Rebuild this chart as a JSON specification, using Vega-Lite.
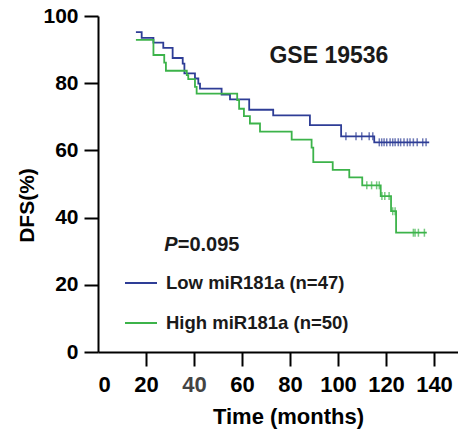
{
  "$schema": "https://vega.github.io/schema/vega-lite/v6.json",
  "width": 360,
  "height": 336,
  "autosize": {"type": "none"},
  "padding": {"left": 98, "top": 16, "right": 0, "bottom": 82},
  "background": "white",
  "config": {
    "view": {"stroke": null},
    "font": "Liberation Sans",
    "axis": {
      "domainColor": "black",
      "domainWidth": 2,
      "tickColor": "black",
      "tickWidth": 2,
      "tickSize": 14,
      "grid": false,
      "labelFont": "Liberation Sans",
      "labelFontWeight": "bold",
      "labelColor": "black",
      "titleFont": "Liberation Sans",
      "titleFontWeight": "bold",
      "titleColor": "black"
    }
  },
  "datasets": {
    "curves": [
      {"group": "Low miR181a (n=47)", "months": 15.8, "dfs": 95.2},
      {"group": "Low miR181a (n=47)", "months": 18.2, "dfs": 93.5},
      {"group": "Low miR181a (n=47)", "months": 23.1, "dfs": 92.1},
      {"group": "Low miR181a (n=47)", "months": 27.2, "dfs": 90.5},
      {"group": "Low miR181a (n=47)", "months": 31.1, "dfs": 87.5},
      {"group": "Low miR181a (n=47)", "months": 35.3, "dfs": 85.8},
      {"group": "Low miR181a (n=47)", "months": 36.0, "dfs": 82.9},
      {"group": "Low miR181a (n=47)", "months": 40.4, "dfs": 81.4},
      {"group": "Low miR181a (n=47)", "months": 41.8, "dfs": 79.9},
      {"group": "Low miR181a (n=47)", "months": 42.5, "dfs": 78.4},
      {"group": "Low miR181a (n=47)", "months": 51.5, "dfs": 76.6},
      {"group": "Low miR181a (n=47)", "months": 55.0, "dfs": 75.2},
      {"group": "Low miR181a (n=47)", "months": 63.0, "dfs": 72.1},
      {"group": "Low miR181a (n=47)", "months": 73.0, "dfs": 70.4},
      {"group": "Low miR181a (n=47)", "months": 88.3, "dfs": 67.5},
      {"group": "Low miR181a (n=47)", "months": 101.3, "dfs": 64.2},
      {"group": "Low miR181a (n=47)", "months": 115.1, "dfs": 62.4},
      {"group": "Low miR181a (n=47)", "months": 138.0, "dfs": 62.4},
      {"group": "High miR181a (n=50)", "months": 15.8, "dfs": 92.9},
      {"group": "High miR181a (n=50)", "months": 23.1, "dfs": 88.4},
      {"group": "High miR181a (n=50)", "months": 27.6, "dfs": 86.1},
      {"group": "High miR181a (n=50)", "months": 28.3, "dfs": 83.7},
      {"group": "High miR181a (n=50)", "months": 37.0, "dfs": 82.4},
      {"group": "High miR181a (n=50)", "months": 37.6, "dfs": 81.2},
      {"group": "High miR181a (n=50)", "months": 40.4, "dfs": 78.9},
      {"group": "High miR181a (n=50)", "months": 41.1, "dfs": 76.9},
      {"group": "High miR181a (n=50)", "months": 58.0, "dfs": 75.0},
      {"group": "High miR181a (n=50)", "months": 58.8, "dfs": 72.4},
      {"group": "High miR181a (n=50)", "months": 60.8, "dfs": 70.2},
      {"group": "High miR181a (n=50)", "months": 63.3, "dfs": 68.0},
      {"group": "High miR181a (n=50)", "months": 67.5, "dfs": 65.6},
      {"group": "High miR181a (n=50)", "months": 80.7, "dfs": 63.2},
      {"group": "High miR181a (n=50)", "months": 89.0, "dfs": 60.8},
      {"group": "High miR181a (n=50)", "months": 89.7, "dfs": 56.5},
      {"group": "High miR181a (n=50)", "months": 97.8, "dfs": 54.2},
      {"group": "High miR181a (n=50)", "months": 104.7, "dfs": 52.0},
      {"group": "High miR181a (n=50)", "months": 110.1, "dfs": 49.6},
      {"group": "High miR181a (n=50)", "months": 117.8, "dfs": 46.4},
      {"group": "High miR181a (n=50)", "months": 122.1, "dfs": 41.9},
      {"group": "High miR181a (n=50)", "months": 124.2, "dfs": 35.5},
      {"group": "High miR181a (n=50)", "months": 137.0, "dfs": 35.5}
    ],
    "censors": [
      {"group": "Low miR181a (n=47)", "months": 103.3, "dfs": 64.2},
      {"group": "Low miR181a (n=47)", "months": 107.5, "dfs": 64.2},
      {"group": "Low miR181a (n=47)", "months": 109.9, "dfs": 64.2},
      {"group": "Low miR181a (n=47)", "months": 113.0, "dfs": 64.2},
      {"group": "Low miR181a (n=47)", "months": 114.5, "dfs": 64.2},
      {"group": "Low miR181a (n=47)", "months": 117.2, "dfs": 62.4},
      {"group": "Low miR181a (n=47)", "months": 118.2, "dfs": 62.4},
      {"group": "Low miR181a (n=47)", "months": 119.2, "dfs": 62.4},
      {"group": "Low miR181a (n=47)", "months": 120.3, "dfs": 62.4},
      {"group": "Low miR181a (n=47)", "months": 121.7, "dfs": 62.4},
      {"group": "Low miR181a (n=47)", "months": 122.8, "dfs": 62.4},
      {"group": "Low miR181a (n=47)", "months": 123.8, "dfs": 62.4},
      {"group": "Low miR181a (n=47)", "months": 125.1, "dfs": 62.4},
      {"group": "Low miR181a (n=47)", "months": 126.1, "dfs": 62.4},
      {"group": "Low miR181a (n=47)", "months": 127.5, "dfs": 62.4},
      {"group": "Low miR181a (n=47)", "months": 128.9, "dfs": 62.4},
      {"group": "Low miR181a (n=47)", "months": 130.0, "dfs": 62.4},
      {"group": "Low miR181a (n=47)", "months": 131.4, "dfs": 62.4},
      {"group": "Low miR181a (n=47)", "months": 133.0, "dfs": 62.4},
      {"group": "Low miR181a (n=47)", "months": 135.3, "dfs": 62.4},
      {"group": "Low miR181a (n=47)", "months": 136.7, "dfs": 62.4},
      {"group": "High miR181a (n=50)", "months": 112.0, "dfs": 49.6},
      {"group": "High miR181a (n=50)", "months": 114.0, "dfs": 49.6},
      {"group": "High miR181a (n=50)", "months": 116.1, "dfs": 49.6},
      {"group": "High miR181a (n=50)", "months": 117.2, "dfs": 49.6},
      {"group": "High miR181a (n=50)", "months": 118.3, "dfs": 46.4},
      {"group": "High miR181a (n=50)", "months": 119.5, "dfs": 46.4},
      {"group": "High miR181a (n=50)", "months": 121.3, "dfs": 46.4},
      {"group": "High miR181a (n=50)", "months": 122.8, "dfs": 41.9},
      {"group": "High miR181a (n=50)", "months": 123.8, "dfs": 41.9},
      {"group": "High miR181a (n=50)", "months": 131.4, "dfs": 35.5},
      {"group": "High miR181a (n=50)", "months": 132.1, "dfs": 35.5},
      {"group": "High miR181a (n=50)", "months": 133.5, "dfs": 35.5},
      {"group": "High miR181a (n=50)", "months": 136.0, "dfs": 35.5}
    ]
  },
  "layer": [
    {
      "data": {"name": "curves"},
      "mark": {"type": "line", "interpolate": "step-after", "strokeWidth": 1.8},
      "encoding": {
        "x": {
          "field": "months", "type": "quantitative",
          "scale": {"domain": [0, 150], "nice": false, "zero": true},
          "axis": {
            "values": [0, 20, 40, 60, 80, 100, 120, 140],
            "labelFontSize": 22,
            "labelPadding": 8,
            "labelColor": {"condition": {"test": "datum.value === 40", "value": "#444444"}, "value": "black"},
            "tickOpacity": {"condition": {"test": "datum.value === 0", "value": 0}, "value": 1},
            "title": "Time (months)",
            "titleFontSize": 22,
            "titleX": 190,
            "titleY": 71,
            "titleBaseline": "alphabetic",
            "titleAlign": "center"
          }
        },
        "y": {
          "field": "dfs", "type": "quantitative",
          "scale": {"domain": [0, 100], "nice": false},
          "axis": {
            "values": [0, 10, 20, 30, 40, 50, 60, 70, 80, 90, 100],
            "labelExpr": "datum.value % 20 === 0 ? datum.label : ''",
            "labelFontSize": 21,
            "labelPadding": 6,
            "title": "DFS(%)",
            "titleFontSize": 21,
            "titleAngle": -90,
            "titleX": -65,
            "titleY": 189,
            "titleBaseline": "alphabetic",
            "titleAlign": "center"
          }
        },
        "color": {
          "field": "group", "type": "nominal",
          "scale": {"domain": ["Low miR181a (n=47)", "High miR181a (n=50)"], "range": ["#2e3d96", "#3cb34a"]},
          "legend": {
            "title": null,
            "orient": "none",
            "legendX": 26,
            "legendY": 250,
            "padding": 0,
            "symbolType": "stroke",
            "symbolSize": 1024,
            "symbolStrokeWidth": 2,
            "labelFont": "Liberation Sans",
            "labelFontWeight": "bold",
            "labelFontSize": 18.5,
            "labelColor": "#1a1a1a",
            "labelOffset": 8,
            "labelLimit": 0,
            "rowPadding": 13
          }
        }
      }
    },
    {
      "data": {"name": "censors"},
      "mark": {"type": "tick", "orient": "vertical", "size": 8, "thickness": 1.5},
      "encoding": {
        "x": {"field": "months", "type": "quantitative"},
        "y": {"field": "dfs", "type": "quantitative"},
        "color": {"field": "group", "type": "nominal", "legend": null}
      }
    },
    {
      "data": {"values": [{"label": "GSE 19536"}]},
      "mark": {"type": "text", "font": "Liberation Sans", "fontWeight": "bold", "fontSize": 23, "align": "center", "baseline": "alphabetic", "color": "#1a1a1a"},
      "encoding": {
        "text": {"field": "label"},
        "x": {"datum": 96.2},
        "y": {"datum": 86.1}
      }
    },
    {
      "data": {"values": [{"label": "P"}]},
      "mark": {"type": "text", "font": "Liberation Sans", "fontWeight": "bold", "fontStyle": "italic", "fontSize": 20, "align": "left", "baseline": "alphabetic", "color": "#1a1a1a"},
      "encoding": {
        "text": {"field": "label"},
        "x": {"datum": 27.6},
        "y": {"datum": 30.0}
      }
    },
    {
      "data": {"values": [{"label": "=0.095"}]},
      "mark": {"type": "text", "font": "Liberation Sans", "fontWeight": "bold", "fontSize": 20, "align": "left", "baseline": "alphabetic", "dx": 13.5, "color": "#1a1a1a"},
      "encoding": {
        "text": {"field": "label"},
        "x": {"datum": 27.6},
        "y": {"datum": 30.0}
      }
    }
  ]
}
